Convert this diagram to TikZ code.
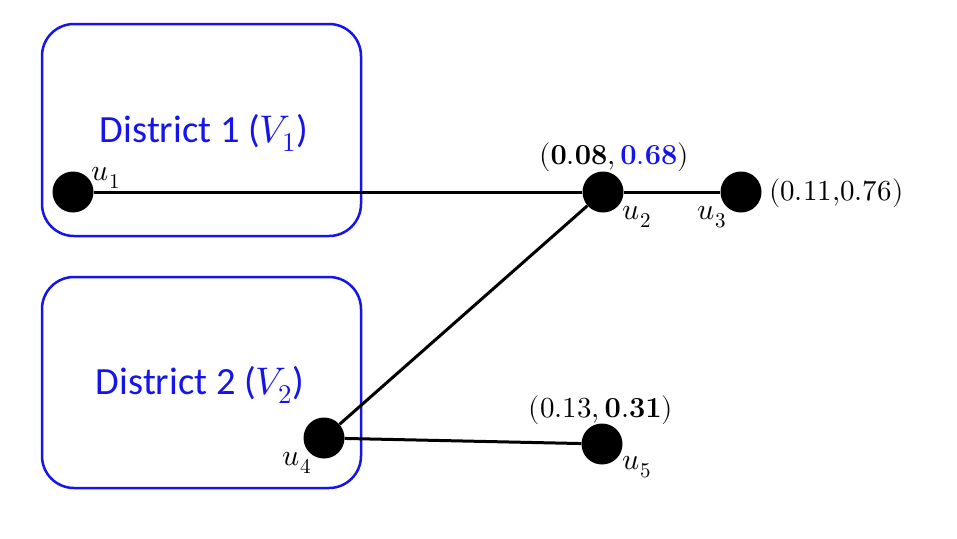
\documentclass[tikz,border=0pt]{standalone}
\usepackage{fontspec}
\usepackage{unicode-math}
\setmathfont{Latin Modern Math}
\newfontfamily\calib{Carlito}
\definecolor{dblue}{RGB}{20,20,235}
\begin{document}
\begin{tikzpicture}[x=1pt,y=-1pt,
  district/.style={draw=dblue,line width=2.5pt,rounded corners=32pt},
  vtx/.style={circle,fill=black,inner sep=0pt,minimum size=41pt},
  edge/.style={line width=3pt},
  dlabel/.style={text=dblue,font=\calib\fontsize{38.5}{46}\selectfont,inner sep=0pt},
  ulabel/.style={font=\fontsize{30}{35}\selectfont,inner sep=0pt},
  clabel/.style={font=\fontsize{29}{34}\selectfont,inner sep=0pt}]
\useasboundingbox (0,0) rectangle (957,538);
\draw[district] (42,24) rectangle (361,236);
\draw[district] (42,277) rectangle (361,488);
\node[dlabel] (d1) at (204,133) {District 1 ($V_1$)};
\node[dlabel] (d2) at (200,385) {District 2 ($V_2$)};
\node[vtx] (u1) at (73,192) {};
\node[vtx] (u2) at (603,192) {};
\node[vtx] (u3) at (741,192) {};
\node[vtx] (u4) at (324,438) {};
\node[vtx] (u5) at (602,444) {};
\draw[edge] (u1) -- (u2);
\draw[edge] (u2) -- (u3);
\draw[edge] (u2) -- (u4);
\draw[edge] (u4) -- (u5);
\node[ulabel] (l1) at (106,178) {$u_1$};
\node[ulabel] (l2) at (637,217) {$u_2$};
\node[ulabel] (l3) at (712,217) {$u_3$};
\node[ulabel] (l4) at (297,463) {$u_4$};
\node[ulabel] (l5) at (637,467) {$u_5$};
\node[clabel] (c2) at (614,157) {$(\mathbf{0.08},\textcolor{dblue}{\mathbf{0.68}})$};
\node[clabel,anchor=west] (c3) at (769,193) {$(0.11{,}0.76)$};
\node[clabel] (c5) at (601,410) {$(0.13,\mathbf{0.31})$};
\end{tikzpicture}
\end{document}
